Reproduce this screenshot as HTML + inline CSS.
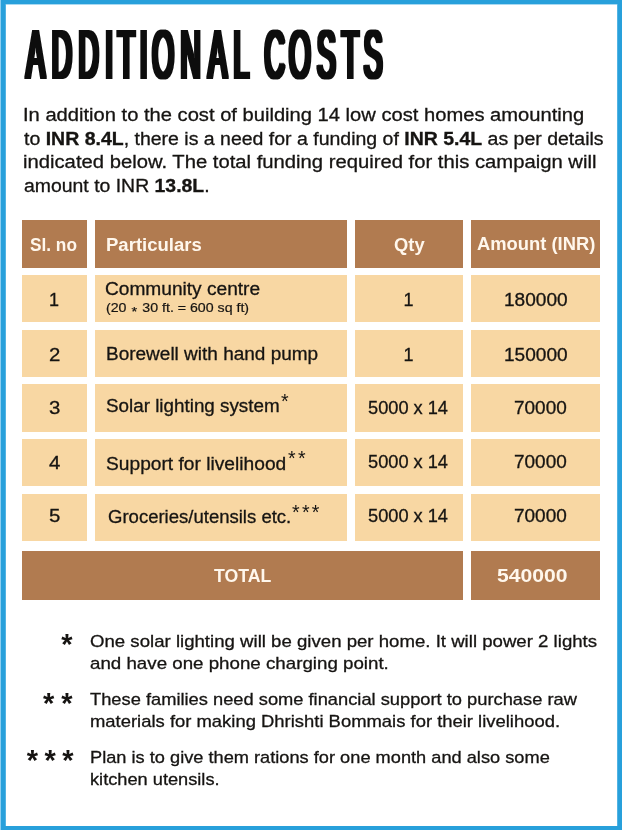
<!DOCTYPE html>
<html lang="en">
<head>
<meta charset="utf-8">
<title>Additional Costs</title>
<style>
html,body{margin:0;padding:0;}
body{width:622px;height:830px;position:relative;overflow:hidden;background:#fff;
  font-family:"Liberation Sans",sans-serif;color:#161412;}
.frame i{position:absolute;display:block;background:#28a0db;}
.fl{left:1px;top:0;width:4px;height:830px;}
.frame .fl0{left:0;top:0;width:1px;height:830px;background:#8ccef0;}
.frame .fl5{left:5px;top:4px;width:1px;height:822px;background:#52b3e3;}
.ft{left:1px;top:0;width:621px;height:4px;}
.frame .ft4{left:6px;top:4px;width:611px;height:1px;background:#a9d9f1;}
.fr{left:618px;top:0;width:4px;height:830px;}
.frame .fr0{left:617px;top:4px;width:1px;height:822px;background:#52b3e3;}
.fb{left:1px;top:826px;width:621px;height:4px;}
.ttl{position:absolute;left:0;top:0;width:622px;height:100px;}
.t{position:absolute;white-space:nowrap;transform-origin:0 0;line-height:1;margin:0;}
.cell{position:absolute;background:#f8d7a3;height:47px;}
.hd{background:#b17b50;}
.c1{left:22.3px;width:64.5px;}
.c2{left:95px;width:251.5px;}
.c3{left:354.7px;width:108.5px;}
.c4{left:471.3px;width:128.7px;}
.r0{top:220px;height:47.6px}
.r1{top:274.8px;height:47.2px}
.r2{top:329.6px;height:47.3px}
.r3{top:384.4px;height:47.3px}
.r4{top:439.2px;height:46.9px}
.r5{top:494px;height:47.4px}
.r6{top:551.2px;height:48.8px}
.p,.b,.f{-webkit-text-stroke:0.3px #161412;}
.s{-webkit-text-stroke:0.2px #161412;}
.s i{font-style:normal;font-size:13px;position:relative;top:3.8px;margin:0 1px;line-height:0;}
.h{color:#fff7ec;font-weight:bold;}
.st{font-weight:bold;}
</style>
</head>
<body>
<div class="frame"><i class="fl0"></i><i class="fl"></i><i class="fl5"></i><i class="ft"></i><i class="ft4"></i><i class="fr0"></i><i class="fr"></i><i class="fb"></i></div>
<svg class="ttl" width="622" height="100" viewBox="0 0 622 100"><defs><filter id="fat" x="-5%" y="-20%" width="110%" height="140%"><feMorphology operator="dilate" radius="2 1"/></filter></defs><g filter="url(#fat)"><text transform="translate(0,78.4) scale(0.405,1)" x="65.01 127.61 193.54 259.67 290.79 344.86 376.14 445.56 514.15 576.29 629.63 652.80 713.31 782.81 843.63 898.12" font-family="Liberation Sans, sans-serif" font-size="69" fill="#0b0b0b">ADDITIONAL COSTS</text></g></svg>
<div class="cell hd c1 r0"></div><div class="cell hd c2 r0"></div><div class="cell hd c3 r0"></div><div class="cell hd c4 r0"></div>
<div class="cell c1 r1"></div><div class="cell c2 r1"></div><div class="cell c3 r1"></div><div class="cell c4 r1"></div>
<div class="cell c1 r2"></div><div class="cell c2 r2"></div><div class="cell c3 r2"></div><div class="cell c4 r2"></div>
<div class="cell c1 r3"></div><div class="cell c2 r3"></div><div class="cell c3 r3"></div><div class="cell c4 r3"></div>
<div class="cell c1 r4"></div><div class="cell c2 r4"></div><div class="cell c3 r4"></div><div class="cell c4 r4"></div>
<div class="cell c1 r5"></div><div class="cell c2 r5"></div><div class="cell c3 r5"></div><div class="cell c4 r5"></div>
<div class="cell hd r6" style="left:22.3px;width:440.9px"></div><div class="cell hd c4 r6"></div>
<div class="t p" id="p1" style="left:23.09px;top:106.00px;font-size:18.0px;transform:scaleX(1.1194);">In addition to the cost of building 14 low cost homes amounting</div>
<div class="t p" id="p2" style="left:24.21px;top:130.00px;font-size:18.0px;transform:scaleX(1.0826);">to <b>INR 8.4L</b>, there is a need for a funding of <b>INR 5.4L</b> as per details</div>
<div class="t p" id="p3" style="left:23.09px;top:153.00px;font-size:18.0px;transform:scaleX(1.1244);">indicated below. The total funding required for this campaign will</div>
<div class="t p" id="p4" style="left:24.21px;top:177.00px;font-size:18.0px;transform:scaleX(1.0784);">amount to INR <b>13.8L</b>.</div>
<div class="t h" id="h1" style="left:30.01px;top:237.00px;font-size:17.5px;transform:scaleX(0.9851);">Sl. no</div>
<div class="t h" id="h2" style="left:105.91px;top:237.00px;font-size:17.5px;transform:scaleX(1.0591);">Particulars</div>
<div class="t h" id="h3" style="left:393.59px;top:237.00px;font-size:17.5px;transform:scaleX(1.0483);">Qty</div>
<div class="t h" id="h4" style="left:477.00px;top:236.00px;font-size:17.5px;transform:scaleX(1.0491);">Amount (INR)</div>
<div class="t b" id="n1" style="left:49.05px;top:291.00px;font-size:18.0px;">1</div>
<div class="t b" id="a1" style="left:104.94px;top:280.00px;font-size:18.0px;transform:scaleX(1.0621);">Community centre</div>
<div class="t s" id="a1s" style="left:106.15px;top:302.00px;font-size:12.6px;transform:scaleX(1.1254);">(20 <i>*</i> 30 ft. = 600 sq ft)</div>
<div class="t b" id="q1" style="left:403.60px;top:291.00px;font-size:18.0px;">1</div>
<div class="t b" id="m1" style="left:503.71px;top:291.00px;font-size:18.0px;transform:scaleX(1.0586);">180000</div>
<div class="t b" id="n2" style="left:48.72px;top:346.00px;font-size:18.0px;transform:scaleX(1.1333);">2</div>
<div class="t b" id="a2" style="left:105.94px;top:345.00px;font-size:18.0px;transform:scaleX(1.0550);">Borewell with hand pump</div>
<div class="t b" id="q2" style="left:403.60px;top:346.00px;font-size:18.0px;">1</div>
<div class="t b" id="m2" style="left:503.71px;top:346.00px;font-size:18.0px;transform:scaleX(1.0586);">150000</div>
<div class="t b" id="n3" style="left:48.72px;top:399.00px;font-size:18.0px;transform:scaleX(1.1333);">3</div>
<div class="t b" id="a3" style="left:105.95px;top:397.00px;font-size:18.0px;transform:scaleX(1.0457);">Solar lighting system</div>
<div class="t b" id="q3" style="left:368.39px;top:399.00px;font-size:18.0px;transform:scaleX(1.0115);">5000 x 14</div>
<div class="t b" id="m3" style="left:513.74px;top:399.00px;font-size:18.0px;transform:scaleX(1.0531);">70000</div>
<div class="t b" id="n4" style="left:48.72px;top:454.00px;font-size:18.0px;transform:scaleX(1.1333);">4</div>
<div class="t b" id="a4" style="left:105.93px;top:455.00px;font-size:18.0px;transform:scaleX(1.0659);">Support for livelihood</div>
<div class="t b" id="q4" style="left:368.39px;top:453.00px;font-size:18.0px;transform:scaleX(1.0115);">5000 x 14</div>
<div class="t b" id="m4" style="left:513.74px;top:453.00px;font-size:18.0px;transform:scaleX(1.0531);">70000</div>
<div class="t b" id="n5" style="left:48.72px;top:507.00px;font-size:18.0px;transform:scaleX(1.1333);">5</div>
<div class="t b" id="a5" style="left:107.97px;top:508.00px;font-size:18.0px;transform:scaleX(1.0290);">Groceries/utensils etc.</div>
<div class="t b" id="q5" style="left:368.39px;top:507.00px;font-size:18.0px;transform:scaleX(1.0115);">5000 x 14</div>
<div class="t b" id="m5" style="left:513.74px;top:507.00px;font-size:18.0px;transform:scaleX(1.0531);">70000</div>
<div class="t h" id="tot" style="left:214.20px;top:567.00px;font-size:18.2px;transform:scaleX(0.9729);">TOTAL</div>
<div class="t h" id="totv" style="left:497.27px;top:567.00px;font-size:18.2px;transform:scaleX(1.1610);">540000</div>
<div class="t f" id="f1a" style="left:89.58px;top:633.00px;font-size:17.0px;transform:scaleX(1.0952);">One solar lighting will be given per home. It will power 2 lights</div>
<div class="t f" id="f1b" style="left:89.58px;top:655.00px;font-size:17.0px;transform:scaleX(1.1015);">and have one phone charging point.</div>
<div class="t f" id="f2a" style="left:90.17px;top:691.00px;font-size:17.0px;transform:scaleX(1.0757);">These families need some financial support to purchase raw</div>
<div class="t f" id="f2b" style="left:90.17px;top:713.00px;font-size:17.0px;transform:scaleX(1.0840);">materials for making Dhrishti Bommais for their livelihood.</div>
<div class="t f" id="f3a" style="left:89.93px;top:749.00px;font-size:17.0px;transform:scaleX(1.0717);">Plan is to give them rations for one month and also some</div>
<div class="t f" id="f3b" style="left:89.93px;top:771.00px;font-size:17.0px;transform:scaleX(1.0714);">kitchen utensils.</div>
<div class="t xs" id="x3" style="left:281.10px;top:392.43px;font-size:19.6px;">*</div>
<div class="t xs" id="x4" style="left:287.90px;top:449.23px;font-size:19.6px;letter-spacing:2.572px;">**</div>
<div class="t xs" id="x5" style="left:292.00px;top:503.23px;font-size:19.6px;letter-spacing:2.272px;">***</div>
<div class="t st" id="s1" style="left:61.30px;top:630.30px;font-size:29.0px;">*</div>
<div class="t st" id="s2" style="left:43.00px;top:688.90px;font-size:29.0px;letter-spacing:6.914px;">**</div>
<div class="t st" id="s3" style="left:26.80px;top:745.90px;font-size:29.0px;letter-spacing:6.414px;">***</div>
</body>
</html>
